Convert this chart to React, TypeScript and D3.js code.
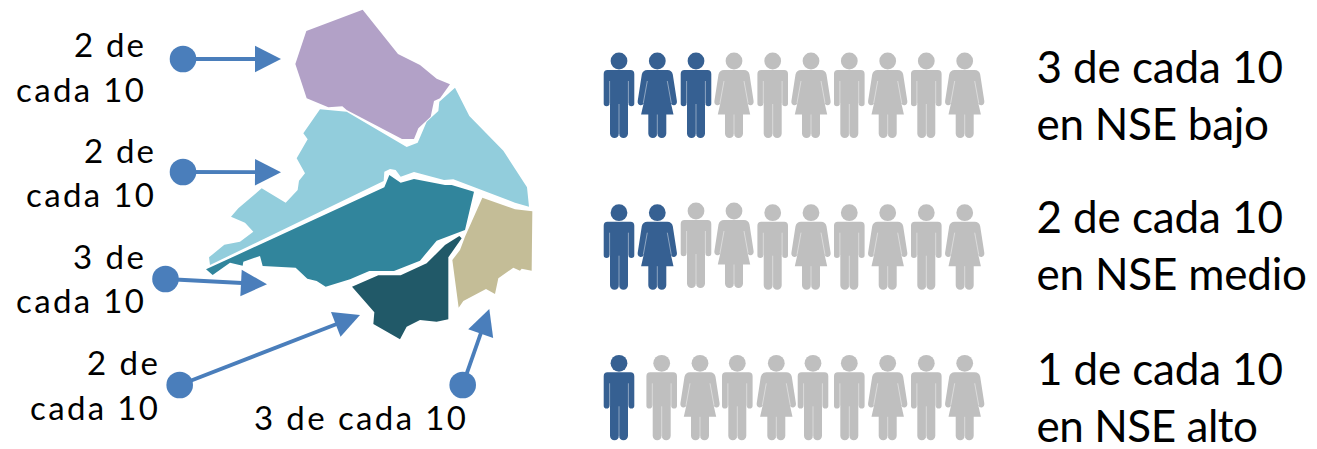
import React from "react";
import * as d3 from "d3";

type P = [number, number];

const WIDTH = 1317;
const HEIGHT = 449;
const FONT = "Lato, Carlito, sans-serif";

// Map regions (trace units: 3 per pixel)
const purpleRegion: P[] = [[518,-481],[624,-348],[690,-315],[740,-274],[780,-257],[750,-215],[732,-207],[722,-160],[685,-125],[672,-93],[636,-93],[470,-180],[457,-191],[415,-188],[350,-215],[332,-270],[316,-318],[349,-417]];
const lightBlueRegion: P[] = [[795,-247],[838,-162],[940,-58],[1011,52],[1017,110],[975,98],[790,28],[762,30],[672,6],[632,20],[617,0],[600,-3],[583,5],[581,33],[60,285],[57,262],[103,224],[150,215],[190,185],[165,158],[123,140],[145,115],[215,55],[287,98],[323,60],[327,32],[345,10],[320,-35],[353,-92],[340,-110],[390,-182],[470,-175],[650,-69],[683,-82],[710,-145],[745,-177],[748,-205]];
const tealRegion: P[] = [[598,15],[632,38],[672,27],[765,45],[785,45],[852,65],[825,180],[740,212],[690,272],[612,303],[538,303],[480,328],[407,350],[380,333],[352,326],[317,293],[218,288],[210,258],[160,275],[158,287],[120,278],[68,315],[48,298],[583,52]];
const darkRegion: P[] = [[815,205],[775,262],[775,448],[740,455],[690,450],[650,470],[630,508],[550,462],[553,427],[486,350],[565,316],[632,316],[710,280],[765,225],[808,198]];
const tanRegion: P[] = [[877,83],[975,118],[1027,124],[1025,302],[995,296],[990,302],[970,293],[925,325],[915,372],[888,357],[820,393],[806,413],[787,270],[810,240],[825,200]];
const regions: P[][] = [purpleRegion, lightBlueRegion, tealRegion, darkRegion, tanRegion];
const regionColors = ["#b2a1c7", "#92cddc", "#31859c", "#215968", "#c4bd97"];

// Callouts: dot centre and arrow tip in pixels
const calloutDots: P[] = [[183,59],[183,172],[165.5,279],[179.7,385],[462.7,385]];
const calloutTips: P[] = [[281,59],[281,172.3],[267,284.3],[360,315],[489.3,309]];

// Callout labels: text, x start, x end, baseline
const leftLabels: [string, number, number, number][] = [
  ["2 de", 74, 144, 56.7], ["cada 10", 16, 144, 101.7],
  ["2 de", 84, 154, 162.7], ["cada 10", 26, 154, 207.3],
  ["3 de", 73, 144, 269], ["cada 10", 16, 144, 313],
  ["2 de", 87, 158, 375], ["cada 10", 30, 158, 420],
  ["3 de cada 10", 254, 466, 430],
];
const rightLabels: [string, number, number, number][] = [
  ["3 de cada 10", 1036.5, 1283, 82.7], ["en NSE bajo", 1036.5, 1269, 140],
  ["2 de cada 10", 1036.5, 1283, 232.7], ["en NSE medio", 1036.5, 1307, 290],
  ["1 de cada 10", 1037, 1283, 385], ["en NSE alto", 1036.5, 1258, 441.7],
];

// Pictogram rows: 'm' man, 'w' woman
const rowGenders = ["mwmwmwmwmw", "mwmwmwmwmw", "mmwmwmmwmw"];
const rowCounts = [3, 2, 1];
const rowHeadY = [61, 212.7, 363.3];
const rowXs: number[][] = [
  [619,657.3,696,734,772.7,811,849.3,887.7,926.3,964.7],
  [619,657.3,696,734,772.7,811,849.3,887.7,926.3,964.7],
  [619,661.7,700,737.3,776.3,813,849.3,887.7,926.3,964.7],
];
const rowYOffsets: number[][] = [
  [0,0,0,0,0,0,0,0,0,0],
  [0,0,-1.7,-1.7,0,0,0,0,0,0],
  [0,0,0,0,0,0,0,0,0,0],
];

const BLUE = "#366092";
const GREY = "#bfbfbf";
const ACCENT = "#4a7ebb";

const xTrace = d3.scaleLinear().domain([0, 360]).range([190, 310]);
const yTrace = d3.scaleLinear().domain([0, 360]).range([170, 290]);
const outline = d3.line<P>().x(d => xTrace(d[0])).y(d => yTrace(d[1])).curve(d3.curveLinearClosed);

const MAN = "M-11.5,9 L11.5,9 Q15.3,9 15.3,13 L15.3,42.5 Q15.3,45.3 12.4,45.3 Q9.6,45.3 9.4,42.5 L9,42.5 L9,72.5 A4.5,4.5 0 0 1 0,72.5 A4.5,4.5 0 0 1 -9,72.5 L-9,42.5 L-9.4,42.5 Q-9.6,45.3 -12.4,45.3 Q-15.3,45.3 -15.3,42.5 L-15.3,13 Q-15.3,9 -11.5,9 Z";
const WOMAN = "M-10,9 L10,9 Q14.5,9 15.5,13.5 L19.6,40 Q20,43.6 17,44.2 Q14.4,44.6 13.6,42 L16.2,53.5 L9,53.5 L9,72.5 A4.5,4.5 0 0 1 0,72.5 A4.5,4.5 0 0 1 -9,72.5 L-9,53.5 L-16.2,53.5 L-13.6,42 Q-14.4,44.6 -17,44.2 Q-20,43.6 -19.6,40 L-15.5,13.5 Q-14.5,9 -10,9 Z";

function Person({ x, y, kind, fill }: { x: number; y: number; kind: string; fill: string }) {
  const lines: [number, number, number, number][] = kind === "m"
    ? [[-9.4,20,-9.4,43],[9.4,20,9.4,43],[0,43,0,74]]
    : [[-10,20,-14,42],[10,20,14,42],[0,53.5,0,74]];
  return (
    <g transform={`translate(${x},${y})`}>
      <circle r={8.4} fill={fill} />
      <path d={kind === "m" ? MAN : WOMAN} fill={fill} />
      {lines.map((l, i) => (
        <line key={i} x1={l[0]} y1={l[1]} x2={l[2]} y2={l[3]} stroke="#fff" strokeOpacity={0.55} strokeWidth={0.8} />
      ))}
    </g>
  );
}

function Arrow({ from, to }: { from: P; to: P }) {
  const a = Math.atan2(to[1] - from[1], to[0] - from[0]);
  const deg = (a * 180) / Math.PI;
  const len = Math.hypot(to[0] - from[0], to[1] - from[1]);
  return (
    <g transform={`translate(${from[0]},${from[1]}) rotate(${deg})`}>
      <line x1={0} y1={0} x2={len - 25} y2={0} stroke={ACCENT} strokeWidth={3.8} />
      <path d={`M${len},0 L${len - 26},-13.2 L${len - 26},13.2 Z`} fill={ACCENT} />
    </g>
  );
}

function Label({ t, size }: { t: [string, number, number, number]; size: number }) {
  return (
    <text x={t[1]} y={t[3]} fontFamily={FONT} fontSize={size} fill="#000"
      textLength={t[2] - t[1]} lengthAdjust="spacing">{t[0]}</text>
  );
}

export default function App() {
  return (
    <svg width={WIDTH} height={HEIGHT} viewBox={`0 0 ${WIDTH} ${HEIGHT}`}
      style={{ position: "absolute", left: 0, top: 0, background: "#fff" }}>
      {regions.map((r, i) => (
        <path key={i} d={outline(r) ?? ""} fill={regionColors[i]} />
      ))}
      {calloutDots.map((d, i) => (
        <g key={i}>
          <Arrow from={d} to={calloutTips[i]} />
          <circle cx={d[0]} cy={d[1]} r={13.3} fill={ACCENT} />
        </g>
      ))}
      {leftLabels.map((t, i) => <Label key={i} t={t} size={33} />)}
      {rightLabels.map((t, i) => <Label key={i} t={t} size={44} />)}
      {rowGenders.map((g, r) =>
        g.split("").map((kind, i) => (
          <Person key={`${r}-${i}`} x={rowXs[r][i]} y={rowHeadY[r] + rowYOffsets[r][i]} kind={kind}
            fill={i < rowCounts[r] ? BLUE : GREY} />
        ))
      )}
    </svg>
  );
}
